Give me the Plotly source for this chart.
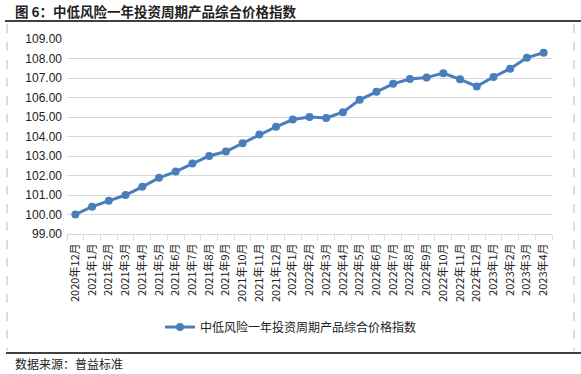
import plotly.graph_objects as go

categories = ["2020年12月", "2021年1月", "2021年2月", "2021年3月", "2021年4月", "2021年5月",
              "2021年6月", "2021年7月", "2021年8月", "2021年9月", "2021年10月", "2021年11月",
              "2021年12月", "2022年1月", "2022年2月", "2022年3月", "2022年4月", "2022年5月",
              "2022年6月", "2022年7月", "2022年8月", "2022年9月", "2022年10月", "2022年11月",
              "2022年12月", "2023年1月", "2023年2月", "2023年3月", "2023年4月"]
values = [100.00, 100.40, 100.70, 101.00, 101.42, 101.88, 102.20, 102.62, 103.00, 103.23,
          103.65, 104.10, 104.50, 104.87, 105.00, 104.95, 105.25, 105.88, 106.30, 106.70,
          106.95, 107.02, 107.25, 106.93, 106.57, 107.05, 107.48, 108.04, 108.30]
series_name = "中低风险一年投资周期产品综合价格指数"
title_text = "图 6：中低风险一年投资周期产品综合价格指数"
source_text = "数据来源：普益标准"
y_ticks = [99, 100, 101, 102, 103, 104, 105, 106, 107, 108, 109]

W, H = 581, 374
L, R, T, B = 67, 29, 39, 140
pw, ph = W - L - R, H - T - B

def px(x):
    return (x - L) / pw

def py(y):
    return (H - B - y) / ph

CJK = "Noto Sans CJK SC, Liberation Sans, sans-serif"
BLUE = "#4A7EBB"

fig = go.Figure()
fig.add_trace(go.Scatter(
    x=categories, y=values, name=series_name, mode="lines+markers",
    line=dict(color=BLUE, width=3), marker=dict(color=BLUE, size=8),
))

shapes = [
    dict(type="line", xref="paper", yref="paper", x0=px(5), x1=px(581), y0=py(21), y1=py(21),
         line=dict(color="black", width=1.5)),
    dict(type="line", xref="paper", yref="paper", x0=px(6), x1=px(581), y0=py(353), y1=py(353),
         line=dict(color="black", width=1.5)),
    dict(type="line", xref="paper", yref="paper", x0=px(7), x1=px(7), y0=py(24), y1=py(351),
         line=dict(color="#BBBBBB", width=1, dash="dash")),
    dict(type="line", xref="paper", yref="paper", x0=px(574), x1=px(574), y0=py(24), y1=py(351),
         line=dict(color="#BBBBBB", width=1, dash="dash")),
]

fig.update_layout(
    width=W, height=H,
    margin=dict(l=L, r=R, t=T, b=B, autoexpand=False),
    paper_bgcolor="white", plot_bgcolor="white",
    title=dict(text=title_text, x=15 / W, y=1 - 12 / H, xanchor="left", yanchor="middle",
               xref="container", yref="container",
               font=dict(family=CJK, size=13.5, color="#222222", weight="bold")),
    showlegend=True,
    legend=dict(xref="container", yref="container", x=160 / W, y=1 - 327 / H,
                xanchor="left", yanchor="middle", orientation="h",
                font=dict(family=CJK, size=12, color="#222222"), bgcolor="rgba(0,0,0,0)"),
    shapes=shapes,
    annotations=[dict(text=source_text, xref="paper", yref="paper", x=px(13), y=py(363),
                      xanchor="left", yanchor="middle", showarrow=False,
                      font=dict(family=CJK, size=12, color="#222222"))],
)
fig.update_xaxes(
    type="category", tickangle=-90, tickson="boundaries", ticks="outside", ticklen=5,
    tickcolor="#D9D9D9", showline=True, linecolor="#D9D9D9", linewidth=1, showgrid=False,
    automargin=False, ticklabelstandoff=4,
    tickfont=dict(family=CJK, size=11, color="#222222"), range=[-0.5, len(categories) - 0.5],
)
fig.update_yaxes(
    range=[99, 109], tickvals=y_ticks, tickformat=".2f", showgrid=True, gridcolor="#D9D9D9",
    gridwidth=1, zeroline=False, showline=False, ticks="", automargin=False,
    ticklabelstandoff=4,
    tickfont=dict(family="Liberation Sans, Arial, sans-serif", size=12, color="#222222"),
)

fig.write_html("out.html", config={"displayModeBar": False},
               post_script="document.body.style.margin='0';document.body.style.overflow='hidden';")
